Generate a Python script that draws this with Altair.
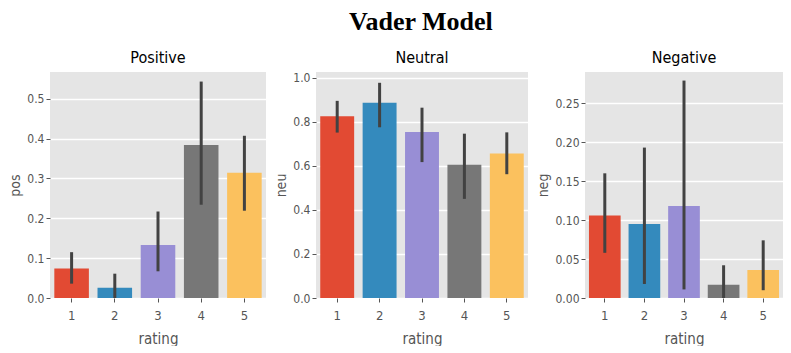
import altair as alt
import pandas as pd

ratings = ["1", "2", "3", "4", "5"]
colors = ["#E24A33", "#348ABD", "#988ED5", "#777777", "#FBC15E"]

pos_mean = [0.074, 0.026, 0.133, 0.384, 0.314]
pos_lo = [0.036, 0.0, 0.067, 0.234, 0.219]
pos_hi = [0.115, 0.061, 0.217, 0.543, 0.407]

neu_mean = [0.825, 0.886, 0.754, 0.605, 0.656]
neu_lo = [0.751, 0.775, 0.617, 0.450, 0.562]
neu_hi = [0.895, 0.977, 0.864, 0.746, 0.752]

neg_mean = [0.106, 0.095, 0.118, 0.017, 0.036]
neg_lo = [0.058, 0.018, 0.011, 0.0, 0.010]
neg_hi = [0.160, 0.193, 0.279, 0.042, 0.074]

FONT = "DejaVu Sans Condensed, DejaVu Sans"


def panel(title, ytitle, mean, lo, hi, ymax, ticks, fmt, width):
    df = pd.DataFrame({"rating": ratings, "mean": mean, "lo": lo, "hi": hi})
    x = alt.X(
        "rating:N",
        scale=alt.Scale(domain=ratings, paddingInner=0.2, paddingOuter=0.1),
        axis=alt.Axis(title="rating", labelAngle=0, grid=False, domain=False,
                      tickColor="#555555", tickSize=4, labelPadding=7,
                      labelFontSize=13, titlePadding=9, titleFontSize=15),
    )
    yscale = alt.Scale(domain=[0, ymax], nice=False, zero=True)
    bars = alt.Chart(df).mark_bar(opacity=1).encode(
        x=x,
        y=alt.Y("mean:Q", scale=yscale,
                axis=alt.Axis(title=ytitle, values=ticks, format=fmt,
                              grid=True, gridColor="white", gridWidth=1.5,
                              domain=False, tickColor="#555555", tickSize=4,
                              labelPadding=2, labelFontSize=12,
                              titlePadding=4, titleFontSize=14)),
        color=alt.Color("rating:N", scale=alt.Scale(domain=ratings, range=colors),
                        legend=None),
    )
    err = alt.Chart(df).mark_rule(color="#424242", strokeWidth=3).encode(
        x=alt.X("rating:N"),
        y=alt.Y("lo:Q"),
        y2="hi:Q",
    )
    return alt.layer(bars, err).properties(
        width=width, height=226,
        title=alt.Title(title, fontSize=16, fontWeight="normal", font=FONT,
                        color="black", offset=6),
    )


p1 = panel("Positive", "pos", pos_mean, pos_lo, pos_hi, 0.567,
           [0.0, 0.1, 0.2, 0.3, 0.4, 0.5], ".1f", 216)
p2 = panel("Neutral", "neu", neu_mean, neu_lo, neu_hi, 1.026,
           [0.0, 0.2, 0.4, 0.6, 0.8, 1.0], ".1f", 212)
p3 = panel("Negative", "neg", neg_mean, neg_lo, neg_hi, 0.29,
           [0.0, 0.05, 0.10, 0.15, 0.20, 0.25], ".2f", 198)

chart = alt.hconcat(p1, p2, p3, spacing=8).properties(
    title=alt.Title("Vader Model", font="Liberation Serif", fontSize=26,
                    fontWeight="bold", anchor="middle", color="black",
                    offset=15, dx=25),
    background="white",
    padding=0,
).configure_view(fill="#E5E5E5", stroke=None).configure_axis(
    labelFont=FONT, titleFont=FONT,
    labelColor="#555555", titleColor="#555555", titleFontWeight="normal",
)

chart.save("out.html", embed_options={"renderer": "svg", "actions": False})
